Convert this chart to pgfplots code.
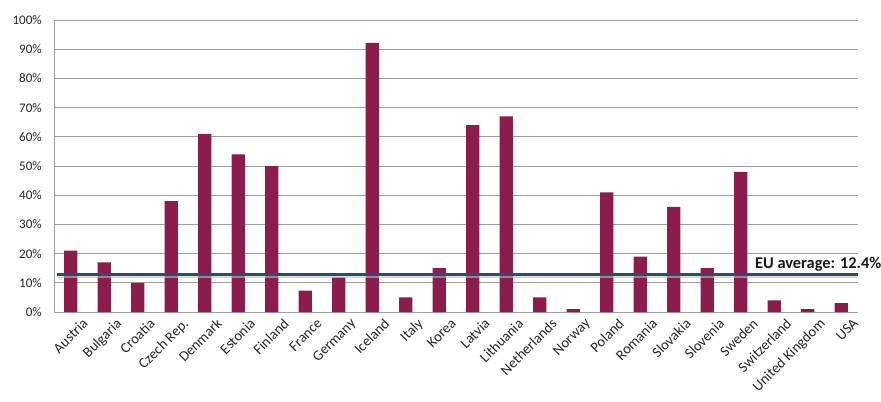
\documentclass[border=0pt]{standalone}
\usepackage{pgfplots}
\pgfplotsset{compat=1.18}
\usepackage{fontspec}
\setmainfont{Carlito}
\definecolor{barc}{HTML}{8B1C4C}
\definecolor{linec}{HTML}{2A4F6F}
\definecolor{gridc}{HTML}{A0A0A0}
\begin{document}
\begin{tikzpicture}
\useasboundingbox (0pt,0pt) rectangle (660.75pt,300.75pt);
\begin{axis}[
  at={(40.5pt,66.75pt)}, anchor=south west,
  scale only axis, width=603pt, height=219pt,
  xmin=-0.5, xmax=23.5, ymin=0, ymax=100,
  ytick={0,10,...,100},
  yticklabel={\pgfmathprintnumber{\tick}\%},
  /pgf/number format/assume math mode=true,
  xtick={0,...,23},
  xticklabels={Austria,Bulgaria,Croatia,Czech Rep.,Denmark,Estonia,Finland,France,Germany,Iceland,Italy,Korea,Latvia,Lithuania,Netherlands,Norway,Poland,Romania,Slovakia,Slovenia,Sweden,Switzerland,United Kingdom,USA},
  xticklabel style={rotate=45, anchor=north east, inner sep=0pt, xshift=3pt, yshift=-8.5pt, font=\fontsize{10.9}{12}\selectfont},
  yticklabel style={inner sep=0pt, xshift=-9pt, font=\fontsize{9.8}{11}\selectfont},
  tick label style={text=black!85},
  tick style={draw=none},
  ymajorgrids, major grid style={draw=gridc, line width=0.6pt},
  axis x line*=bottom, axis y line*=left,
  axis line style={draw=gridc, line width=0.6pt, -},
  clip=false,
]
\addplot[ybar, bar width=10pt, fill=barc, draw=none] coordinates {
(0,21) (1,17) (2,10) (3,38) (4,61) (5,54) (6,50) (7,7.3) (8,11.9) (9,92.2)
(10,5) (11,15) (12,64) (13,67) (14,5) (15,1) (16,41) (17,19) (18,36) (19,15)
(20,48) (21,4) (22,1) (23,3)};
\addplot[draw=black!25, line width=3pt, opacity=0.6, forget plot] coordinates {(-0.41,12.4) (23.5,12.4)};
\addplot[draw=linec, line width=2.6pt] coordinates {(-0.41,12.9) (23.5,12.9)};
\node[anchor=base west, inner sep=0pt, font=\bfseries\fontsize{12.3}{14}\selectfont, text=black!90] at (axis cs:20.42,14.8) {EU average: 12.4\%};
\end{axis}
\end{tikzpicture}
\end{document}
